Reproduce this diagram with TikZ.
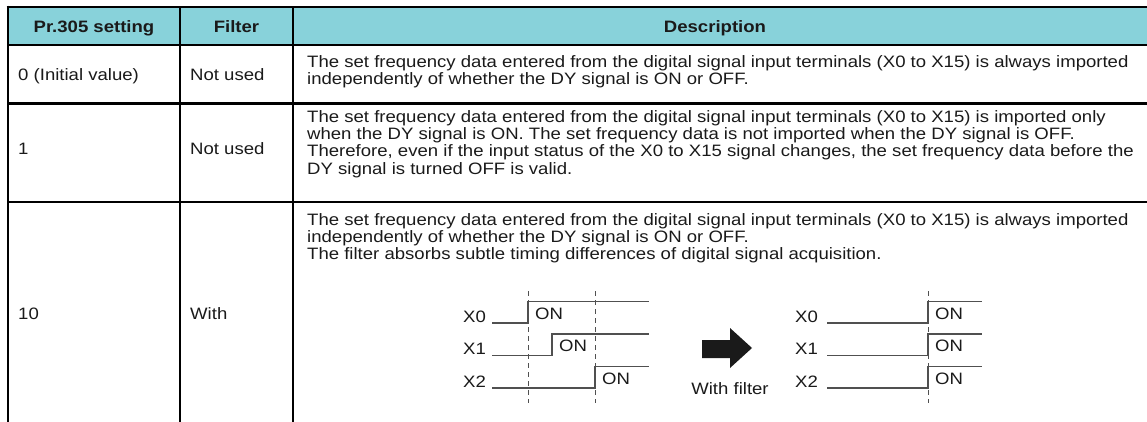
\documentclass[tikz,border=0pt]{standalone}
\usepackage{fontspec}
\setmainfont{Liberation Sans}[FakeStretch=1.125]
\newcommand\myfs{\fontsize{16.5pt}{17.2pt}\selectfont}
\definecolor{hdrfill}{RGB}{136,210,218}
\definecolor{inkc}{RGB}{26,26,26}
\definecolor{sigc}{RGB}{80,80,80}
\tikzset{
  grid/.style={line width=2.7pt, draw=black},
  txt/.style={anchor=base west, inner sep=0pt, font=\myfs, text=inkc},
  hdr/.style={anchor=base, inner sep=0pt, font=\myfs\bfseries, text=inkc},
  sig/.style={line width=1.4pt, draw=sigc},
  guide/.style={line width=0.9pt, draw=sigc, dash pattern=on 4.5pt off 4.5pt},
  lbl/.style={anchor=base west, inner sep=0pt, font=\myfs, text=inkc},
}
\begin{document}
\begin{tikzpicture}[x=1pt,y=-1pt]
\useasboundingbox (0,0) rectangle (1147,421);
% header
\fill[hdrfill] (8,7) rectangle (1150,45);
\draw[grid] (6.65,7) -- (1150,7);
\draw[grid] (8,45) -- (1150,45);
\draw[grid] (8,103.5) -- (1150,103.5);
\draw[grid] (8,202) -- (1150,202);
\draw[grid] (8,5.65) -- (8,425);
\draw[grid] (180,7) -- (180,425);
\draw[grid] (293,7) -- (293,425);
% header texts
\node[hdr] (h1) at (94,32) {Pr.305 setting};
\node[hdr] (h2) at (236.5,32) {Filter};
\node[hdr] (h3) at (715,32) {Description};
% column 1 and 2
\node[txt] (s0) at (18,80) {0 (Initial value)};
\node[txt] (f0) at (190,80) {Not used};
\node[txt] (s1) at (18,154) {1};
\node[txt] (f1) at (190,154) {Not used};
\node[txt] (s2) at (18,319) {10};
\node[txt] (f2) at (190,319) {With};
% descriptions
\node[txt] (d1a) at (307,67) {The set frequency data entered from the digital signal input terminals (X0 to X15) is always imported};
\node[txt] (d1b) at (307,84.2) {independently of whether the DY signal is ON or OFF.};
\node[txt] (d2a) at (307,122.5) {The set frequency data entered from the digital signal input terminals (X0 to X15) is imported only};
\node[txt] (d2b) at (307,139.7) {when the DY signal is ON. The set frequency data is not imported when the DY signal is OFF.};
\node[txt] (d2c) at (307,156.9) {Therefore, even if the input status of the X0 to X15 signal changes, the set frequency data before the};
\node[txt] (d2d) at (307,174.1) {DY signal is turned OFF is valid.};
\node[txt] (d3a) at (307,225) {The set frequency data entered from the digital signal input terminals (X0 to X15) is always imported};
\node[txt] (d3b) at (307,242.2) {independently of whether the DY signal is ON or OFF.};
\node[txt] (d3c) at (307,259.4) {The filter absorbs subtle timing differences of digital signal acquisition.};
% left timing diagram
\draw[guide] (528,291) -- (528,403);
\draw[guide] (595,291) -- (595,403);
\node[lbl] (lx0) at (463,322) {X0};
\node[lbl] (lx1) at (463,354.5) {X1};
\node[lbl] (lx2) at (463,387) {X2};
\draw[sig] (492,323) -- (528,323) -- (528,301.5) -- (649,301.5);
\draw[sig] (492,355.5) -- (552,355.5) -- (552,334) -- (649,334);
\draw[sig] (492,388) -- (595,388) -- (595,366.5) -- (649,366.5);
\node[lbl] (lo0) at (535,319) {ON};
\node[lbl] (lo1) at (559,351.5) {ON};
\node[lbl] (lo2) at (602,384) {ON};
% arrow
\fill[inkc] (702,340) -- (730,340) -- (730,328) -- (752,348) -- (730,368) -- (730,358) -- (702,358) -- cycle;
\node[anchor=base, inner sep=0pt, font=\myfs, text=inkc] (wf) at (730,394) {With filter};
% right timing diagram
\draw[guide] (928,291) -- (928,403);
\node[lbl] (rx0) at (795,322) {X0};
\node[lbl] (rx1) at (795,354.5) {X1};
\node[lbl] (rx2) at (795,387) {X2};
\draw[sig] (827,323) -- (928,323) -- (928,301.5) -- (982,301.5);
\draw[sig] (827,355.5) -- (928,355.5) -- (928,334) -- (982,334);
\draw[sig] (827,388) -- (928,388) -- (928,366.5) -- (982,366.5);
\node[lbl] (ro0) at (935,319) {ON};
\node[lbl] (ro1) at (935,351.5) {ON};
\node[lbl] (ro2) at (935,384) {ON};
\end{tikzpicture}
\end{document}
